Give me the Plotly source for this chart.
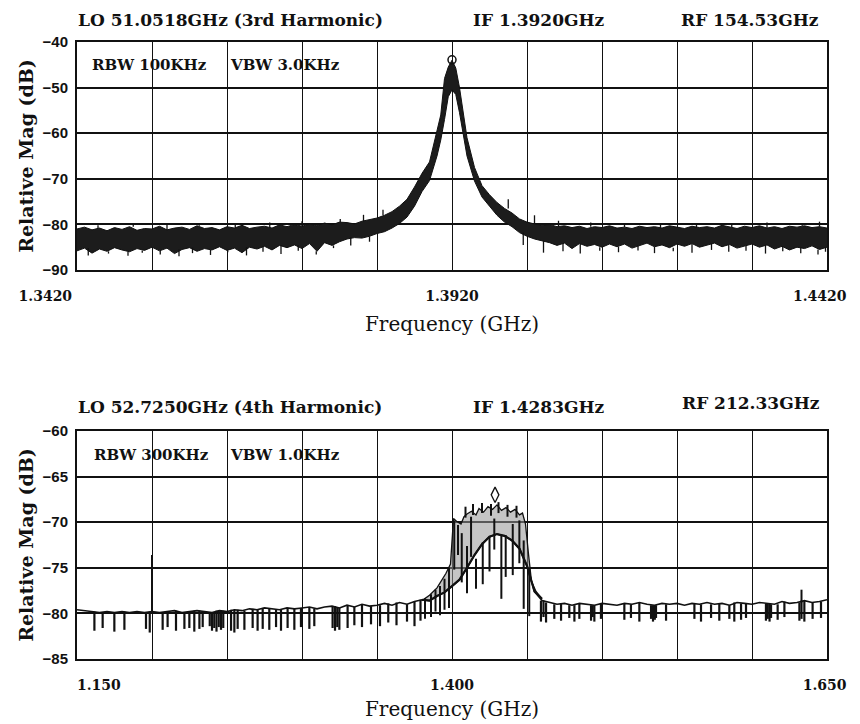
import numpy as np
import plotly.graph_objects as go

# ---------------- Top spectrum: LO 51.0518 GHz (3rd harmonic) ----------------
TOP_F = [1.342, 1.343, 1.344, 1.345, 1.346, 1.347, 1.348, 1.349, 1.350, 1.351,
         1.352, 1.353, 1.354, 1.355, 1.356, 1.357, 1.358, 1.359, 1.360, 1.361,
         1.362, 1.363, 1.364, 1.365, 1.366, 1.367, 1.368, 1.369, 1.370, 1.371,
         1.372, 1.373, 1.374, 1.375, 1.376, 1.377, 1.378, 1.379, 1.380, 1.381,
         1.382, 1.383, 1.384, 1.385, 1.386, 1.387, 1.388, 1.389, 1.390,
         1.3905, 1.391, 1.3915, 1.392, 1.3925, 1.393, 1.3935, 1.394,
         1.395, 1.396, 1.397, 1.398, 1.399, 1.400, 1.401, 1.402, 1.403, 1.404,
         1.405, 1.406, 1.407, 1.408, 1.409, 1.410, 1.411, 1.412, 1.413, 1.414,
         1.415, 1.416, 1.417, 1.418, 1.419, 1.420, 1.421, 1.422, 1.423, 1.424,
         1.425, 1.426, 1.427, 1.428, 1.429, 1.430, 1.431, 1.432, 1.433, 1.434,
         1.435, 1.436, 1.437, 1.438, 1.439, 1.440, 1.441, 1.442]
TOP_HI = [-81.0, -80.6, -81.2, -80.8, -81.4, -80.7, -81.1, -80.5, -81.3, -80.9,
          -81.0, -80.4, -81.2, -80.8, -80.6, -81.1, -80.3, -80.9, -80.7, -81.2,
          -80.5, -80.8, -80.2, -80.9, -80.6, -80.4, -80.8, -80.1, -80.5, -80.0,
          -80.4, -79.9, -80.3, -79.7, -80.1, -79.5, -79.6, -79.9, -79.3, -79.0,
          -78.6, -78.0, -77.2, -76.0, -74.5, -71.8, -68.8, -66.3, -59.5,
          -56.0, -48.0, -45.5, -44.0, -45.7, -50.0, -56.0, -61.0,
          -67.5, -71.5, -73.5, -75.2, -76.5, -77.5, -78.8, -79.5, -79.9, -80.2,
          -80.0, -80.5, -80.3, -80.7, -80.4, -80.9, -80.5, -80.7, -80.3, -80.8,
          -80.6, -80.9, -80.4, -80.7, -80.5, -80.8, -80.3, -80.6, -80.9, -80.4,
          -80.7, -80.5, -80.8, -80.2, -80.6, -80.9, -80.4, -80.7, -80.3, -80.8,
          -80.5, -80.9, -80.4, -80.6, -80.3, -80.7, -80.5, -80.8]
TOP_LO = [-85.8, -85.2, -86.3, -85.4, -85.9, -85.1, -85.6, -86.0, -85.3, -85.7,
          -85.0, -85.8, -85.2, -86.4, -85.5, -85.1, -85.9, -85.3, -85.6, -84.9,
          -85.7, -85.2, -86.2, -85.0, -85.4, -84.8, -85.6, -84.6, -85.1, -84.5,
          -85.3, -84.2, -85.9, -84.0, -84.6, -83.8, -83.2, -82.9, -83.0, -82.6,
          -82.0, -81.6, -80.8, -79.8, -78.4, -76.0, -72.8, -70.4, -65.0,
          -61.5, -57.0, -52.0, -50.5, -51.5, -55.5, -60.5, -65.0,
          -70.5, -74.0, -76.0, -78.0, -79.5, -80.5, -81.8, -82.6, -83.2, -83.6,
          -84.0, -84.6, -84.1, -85.3, -84.2, -84.8, -84.4, -85.0, -84.3, -84.9,
          -84.3, -85.2, -84.6, -84.1, -84.9, -84.5, -85.1, -84.3, -84.8, -84.2,
          -85.0, -84.6, -84.1, -84.9, -84.4, -85.2, -84.7, -84.3, -85.0, -84.5,
          -85.4, -84.8, -85.6, -85.0, -85.3, -84.7, -85.5, -85.0]
# noise excursions below / above the band
TOP_DN_F = [1.3435, 1.3462, 1.3488, 1.3507, 1.3531, 1.3556, 1.3574, 1.3598, 1.3621, 1.3646,
            1.3668, 1.3692, 1.3715, 1.3739, 1.3762, 1.3785, 1.3810,
            1.4015, 1.4042, 1.4068, 1.4091, 1.4117, 1.4142, 1.4168, 1.4190, 1.4215, 1.4240,
            1.4266, 1.4289, 1.4312, 1.4338, 1.4361, 1.4385, 1.4408, 1.4418]
TOP_DN_DB = [-86.8, -86.4, -86.9, -86.2, -86.6, -87.0, -86.3, -86.7, -86.1, -86.8,
             -86.0, -86.5, -85.8, -86.6, -85.2, -84.6, -83.8,
             -84.5, -86.2, -85.9, -86.4, -85.8, -86.1, -85.7, -86.3, -85.9, -86.2,
             -85.6, -86.0, -85.8, -86.4, -85.9, -86.3, -86.6, -86.0]
TOP_UP_F = [1.3448, 1.3495, 1.3540, 1.3583, 1.3631, 1.3677, 1.3720, 1.3771, 1.3802, 1.3828,
            1.3995, 1.4030, 1.4062, 1.4105, 1.4150, 1.4198, 1.4246, 1.4293, 1.4340, 1.4387,
            1.4410, 1.4435]
TOP_UP_DB = [-80.2, -80.0, -80.1, -79.9, -80.0, -79.6, -79.3, -78.8, -77.9, -76.8,
             -74.5, -78.0, -79.2, -79.6, -79.8, -79.9, -79.7, -80.0, -79.6, -79.8,
             -79.4, -79.9]
TOP_MARK_F = [1.3920]
TOP_MARK_DB = [-43.9]

TOP_X_TICKS = [1.342, 1.352, 1.362, 1.372, 1.382, 1.392, 1.402, 1.412, 1.422, 1.432, 1.442]
TOP_X_LABELS = ["1.3420", "", "", "", "", "1.3920", "", "", "", "", "1.4420"]
TOP_Y_TICKS = [-90, -80, -70, -60, -50, -40]

# ---------------- Bottom spectrum: LO 52.7250 GHz (4th harmonic) ----------------
BOT_F = [1.150, 1.155, 1.160, 1.165, 1.170, 1.175, 1.180, 1.185, 1.190, 1.195,
         1.200, 1.205, 1.210, 1.215, 1.220, 1.225, 1.230, 1.235, 1.240, 1.245,
         1.250, 1.255, 1.260, 1.265, 1.270, 1.275, 1.280, 1.285, 1.290, 1.295,
         1.300, 1.305, 1.310, 1.315, 1.320, 1.325, 1.330, 1.335, 1.340, 1.345,
         1.350, 1.355, 1.360, 1.365, 1.370, 1.375, 1.380, 1.385, 1.390, 1.395,
         1.400, 1.405, 1.410, 1.415, 1.420, 1.425, 1.430, 1.435, 1.440, 1.445,
         1.450, 1.455, 1.460, 1.465, 1.470, 1.475, 1.480, 1.485, 1.490, 1.495,
         1.500, 1.505, 1.510, 1.515, 1.520, 1.525, 1.530, 1.535, 1.540, 1.545,
         1.550, 1.555, 1.560, 1.565, 1.570, 1.575, 1.580, 1.585, 1.590, 1.595,
         1.600, 1.605, 1.610, 1.615, 1.620, 1.625, 1.630, 1.635, 1.640, 1.645, 1.650]
BOT_DB = [-79.6, -79.7, -79.8, -79.9, -79.8, -79.9, -79.8, -79.9, -79.8, -79.9,
          -79.8, -79.9, -79.8, -79.7, -79.9, -79.8, -79.7, -79.8, -79.9, -79.7,
          -79.8, -79.6, -79.7, -79.5, -79.6, -79.4, -79.5, -79.6, -79.4, -79.5,
          -79.4, -79.3, -79.5, -79.3, -79.2, -79.4, -79.1, -79.3, -79.0, -79.2,
          -79.1, -78.9, -79.1, -78.8, -79.0, -78.7, -78.5, -78.6, -78.1, -77.7,
          -77.0, -76.3, -75.0, -73.6, -72.4, -71.6, -71.3, -71.5, -72.0, -72.9,
          -74.8, -77.6, -78.6, -78.8, -79.0, -78.9, -79.1, -78.9, -79.0, -79.1,
          -78.9, -79.0, -79.1, -78.9, -79.0, -78.8, -79.0, -79.1, -78.9, -79.0,
          -78.9, -79.1, -78.9, -79.0, -78.8, -79.0, -78.9, -79.1, -78.8, -78.9,
          -79.0, -78.8, -78.9, -79.0, -78.7, -78.9, -78.8, -78.6, -78.8, -78.7, -78.5]

# downward dropouts: frequency and lowest level
DROP_F = [1.1616, 1.1671, 1.1749, 1.1816, 1.1960, 1.1985, 1.2071, 1.2104, 1.2160, 1.2216,
          1.2249, 1.2282, 1.2316, 1.2338, 1.2385, 1.2400, 1.2415, 1.2430, 1.2445, 1.2460,
          1.2475, 1.2527, 1.2549, 1.2571, 1.2616, 1.2671, 1.2704, 1.2738, 1.2782, 1.2827,
          1.2860, 1.2904, 1.2949, 1.2993, 1.3049, 1.3082, 1.3204, 1.3220, 1.3235, 1.3249,
          1.3304, 1.3349, 1.3400, 1.3460, 1.3520, 1.3575, 1.3630, 1.3700, 1.3750, 1.3790,
          1.4593, 1.4610, 1.4627, 1.4682, 1.4727, 1.4782, 1.4816, 1.4849, 1.4927, 1.4938,
          1.4949, 1.4993, 1.5149, 1.5193, 1.5249, 1.5327, 1.5340, 1.5352, 1.5360, 1.5427,
          1.5616, 1.5660, 1.5727, 1.5782, 1.5849, 1.5882, 1.5927, 1.5960, 1.6093, 1.6105,
          1.6117, 1.6127, 1.6171, 1.6216, 1.6316, 1.6330, 1.6349, 1.6404, 1.6460]
DROP_DB = [-81.9, -81.6, -82.0, -81.8, -81.7, -82.1, -81.8, -81.5, -81.9, -81.7,
           -81.6, -82.0, -81.7, -81.5, -81.4, -81.9, -81.6, -82.0, -81.5, -81.8,
           -81.6, -81.9, -82.1, -81.7, -81.8, -81.6, -81.9, -81.7, -81.8, -81.5,
           -81.9, -81.6, -81.8, -81.5, -81.7, -81.4, -81.6, -81.9, -81.5, -81.8,
           -81.6, -81.3, -81.5, -81.2, -81.4, -81.0, -81.3, -80.9, -81.4, -80.8,
           -80.9, -80.4, -81.0, -80.6, -80.8, -80.5, -80.9, -80.6, -80.8, -80.4,
           -80.9, -80.6, -80.7, -80.5, -80.9, -80.6, -80.9, -80.7, -80.5, -80.8,
           -80.6, -80.9, -80.5, -80.8, -80.6, -80.9, -80.7, -80.5, -80.8, -80.6,
           -80.9, -80.5, -80.7, -80.4, -80.8, -80.6, -80.9, -80.6, -80.5]

# upward spurs: frequency, base and top level
SPUR_F = [1.2000, 1.6330]
SPUR_BASE = [-79.8, -78.8]
SPUR_TOP = [-73.6, -77.4]

# signal band: outer (max-hold) envelope
BAND_F = [1.380, 1.385, 1.390, 1.393, 1.396, 1.399, 1.400, 1.401, 1.403, 1.406,
          1.408, 1.410, 1.413, 1.416, 1.418, 1.421, 1.424, 1.427, 1.430, 1.433,
          1.436, 1.439, 1.442, 1.445, 1.447, 1.449, 1.451, 1.453, 1.456, 1.460]
BAND_HI = [-78.6, -78.0, -77.2, -76.4, -75.6, -74.6, -71.5, -69.6, -69.9, -70.2,
           -69.4, -69.1, -68.8, -69.2, -68.5, -68.9, -68.3, -68.6, -68.1, -68.7,
           -68.4, -68.9, -68.6, -69.2, -69.0, -70.2, -73.5, -76.5, -77.6, -78.4]
# inner (smooth) response inside the band
INNER_F = [1.380, 1.385, 1.390, 1.395, 1.400, 1.405, 1.410, 1.415, 1.420, 1.425,
           1.430, 1.435, 1.440, 1.445, 1.450, 1.455, 1.460]
INNER_DB = [-78.5, -78.6, -78.1, -77.7, -77.0, -76.3, -75.0, -73.6, -72.4, -71.6,
            -71.3, -71.5, -72.0, -72.9, -74.8, -77.6, -78.4]
# vertical excursions inside the band: frequency, top, bottom
BSPK_F = [1.3820, 1.3860, 1.3890, 1.3920, 1.3950, 1.3980, 1.4015, 1.4040, 1.4065, 1.4100,
          1.4127, 1.4160, 1.4205, 1.4250, 1.4282, 1.4329, 1.4358, 1.4405, 1.4449, 1.4478,
          1.4515, 1.4090, 1.4140, 1.4200, 1.4260, 1.4310, 1.4370, 1.4430]
BSPK_TOP = [-78.3, -77.9, -77.4, -77.0, -76.2, -75.0, -69.8, -70.3, -71.2, -72.6,
            -69.4, -74.0, -72.2, -71.6, -69.6, -71.5, -71.4, -70.2, -69.8, -72.0,
            -75.0, -68.3, -68.0, -67.9, -68.0, -67.8, -68.1, -68.2]
BSPK_BOT = [-80.6, -80.4, -79.8, -80.2, -79.6, -79.4, -75.2, -73.6, -76.6, -77.8,
            -73.8, -77.3, -76.8, -75.4, -73.0, -78.4, -76.0, -75.8, -74.5, -79.5,
            -80.3, -69.5, -69.2, -69.0, -69.3, -69.0, -69.4, -69.5]
BOT_MARK_F = [1.4287]
BOT_MARK_DB = [-67.0]

BOT_X_TICKS = [1.15, 1.20, 1.25, 1.30, 1.35, 1.40, 1.45, 1.50, 1.55, 1.60, 1.65]
BOT_X_LABELS = ["1.150", "", "", "", "", "1.400", "", "", "", "", "1.650"]
BOT_Y_TICKS = [-85, -80, -75, -70, -65, -60]

# ---------------------------------------------------------------------------
OFF = 8                      # page body margin of the html page
W, H = 860 - OFF, 724 - OFF  # figure size
INK = "#111111"
SERIF = "DejaVu Serif"


def px(xp):
    return (xp - OFF) / W


def py(yp):
    return 1 - (yp - OFF) / H


def segs(xs, tops, bots):
    X, Y = [], []
    for x, t, b in zip(xs, tops, bots):
        X += [x, x, None]
        Y += [t, b, None]
    return X, Y


def nearest(fs, vals, f):
    arr = np.array(fs)
    return vals[int(np.argmin(np.abs(arr - f)))]


fig = go.Figure()

# top: noise band as filled envelope
fig.add_trace(go.Scatter(x=TOP_F, y=TOP_LO, mode="lines", line=dict(color=INK, width=1),
                         xaxis="x", yaxis="y", showlegend=False, hoverinfo="skip"))
fig.add_trace(go.Scatter(x=TOP_F, y=TOP_HI, mode="lines", line=dict(color=INK, width=1),
                         fill="tonexty", fillcolor="#1c1c1c",
                         xaxis="x", yaxis="y", showlegend=False))
ux, uy = segs(TOP_DN_F, [nearest(TOP_F, TOP_LO, f) for f in TOP_DN_F], TOP_DN_DB)
fig.add_trace(go.Scatter(x=ux, y=uy, mode="lines", line=dict(color=INK, width=1.3),
                         xaxis="x", yaxis="y", showlegend=False, hoverinfo="skip"))
ux, uy = segs(TOP_UP_F, [nearest(TOP_F, TOP_HI, f) for f in TOP_UP_F], TOP_UP_DB)
fig.add_trace(go.Scatter(x=ux, y=uy, mode="lines", line=dict(color=INK, width=1.3),
                         xaxis="x", yaxis="y", showlegend=False, hoverinfo="skip"))
fig.add_trace(go.Scatter(x=TOP_MARK_F, y=TOP_MARK_DB, mode="markers",
                         marker=dict(symbol="circle-open", size=8, color=INK, line=dict(width=1.5)),
                         xaxis="x", yaxis="y", showlegend=False))

# bottom: band fill between outer envelope and inner response
poly_x = list(BAND_F) + list(INNER_F[::-1])
poly_y = list(BAND_HI) + list(INNER_DB[::-1])
fig.add_trace(go.Scatter(x=poly_x, y=poly_y, mode="lines", fill="toself",
                         fillcolor="rgba(150,150,150,0.55)", line=dict(color="rgba(0,0,0,0)", width=0),
                         xaxis="x2", yaxis="y2", showlegend=False, hoverinfo="skip"))
fig.add_trace(go.Scatter(x=BAND_F, y=BAND_HI, mode="lines", line=dict(color=INK, width=1.3),
                         xaxis="x2", yaxis="y2", showlegend=False))
fig.add_trace(go.Scatter(x=INNER_F, y=INNER_DB, mode="lines", line=dict(color=INK, width=2.2),
                         xaxis="x2", yaxis="y2", showlegend=False))

tops = [nearest(BOT_F, BOT_DB, f) for f in DROP_F]
dx, dy = segs(DROP_F, tops, DROP_DB)
fig.add_trace(go.Scatter(x=dx, y=dy, mode="lines", line=dict(color=INK, width=2.2),
                         xaxis="x2", yaxis="y2", showlegend=False, hoverinfo="skip"))
bx, by = segs(BSPK_F, BSPK_TOP, BSPK_BOT)
fig.add_trace(go.Scatter(x=bx, y=by, mode="lines", line=dict(color=INK, width=2),
                         xaxis="x2", yaxis="y2", showlegend=False, hoverinfo="skip"))
sx, sy = segs(SPUR_F, SPUR_TOP, SPUR_BASE)
fig.add_trace(go.Scatter(x=sx, y=sy, mode="lines", line=dict(color=INK, width=2),
                         xaxis="x2", yaxis="y2", showlegend=False, hoverinfo="skip"))
fig.add_trace(go.Scatter(x=BOT_F, y=BOT_DB, mode="lines", line=dict(color=INK, width=1.6),
                         xaxis="x2", yaxis="y2", showlegend=False))
fig.add_trace(go.Scatter(x=BOT_MARK_F, y=BOT_MARK_DB, mode="markers",
                         marker=dict(symbol="diamond-tall-open", size=11, color=INK, line=dict(width=1.3)),
                         xaxis="x2", yaxis="y2", showlegend=False))

XDOM = [px(77), px(827)]
TOP_YDOM = [py(270), py(42)]
BOT_YDOM = [py(659), py(431)]

xtick_font = dict(family=SERIF, size=14, color=INK, weight="bold")
ytick_font = dict(family="Liberation Sans", size=15, color=INK, weight="bold")
xtitle_font = dict(family=SERIF, size=20, color=INK)
ytitle_font = dict(family=SERIF, size=19, color=INK, weight="bold")

common_x = dict(showgrid=True, gridcolor=INK, gridwidth=1.4, showline=True, linecolor=INK,
                linewidth=2, mirror=True, ticks="", zeroline=False, tickfont=xtick_font,
                ticklabelstandoff=12, tickangle=0, automargin=False, ticklabeloverflow="allow")
common_y = dict(showgrid=True, gridcolor=INK, gridwidth=1.8, showline=True, linecolor=INK,
                linewidth=2, mirror=True, ticks="", zeroline=False, tickfont=ytick_font,
                ticklabelstandoff=4, automargin=False, ticklabeloverflow="allow")

pad = "\u00a0"
top_labels = [TOP_X_LABELS[0] + pad * 13] + TOP_X_LABELS[1:-1] + [TOP_X_LABELS[-1] + pad * 3]
bot_labels = [pad * 9 + BOT_X_LABELS[0]] + BOT_X_LABELS[1:-1] + [BOT_X_LABELS[-1] + pad]

fig.update_layout(
    width=W, height=H, margin=dict(l=0, r=0, t=0, b=0, autoexpand=False),
    paper_bgcolor="white", plot_bgcolor="white", showlegend=False,
    xaxis=dict(domain=XDOM, range=[1.342, 1.442], anchor="y", tickvals=TOP_X_TICKS,
               ticktext=top_labels, title=dict(text="Frequency (GHz)", font=xtitle_font, standoff=14),
               **common_x),
    yaxis=dict(domain=TOP_YDOM, range=[-90, -40], anchor="x", tickvals=TOP_Y_TICKS,
               title=dict(text="Relative Mag (dB)", font=ytitle_font, standoff=4), **common_y),
    xaxis2=dict(domain=XDOM, range=[1.15, 1.65], anchor="y2", tickvals=BOT_X_TICKS,
                ticktext=bot_labels, title=dict(text="Frequency (GHz)", font=xtitle_font, standoff=10),
                **common_x),
    yaxis2=dict(domain=BOT_YDOM, range=[-85, -60], anchor="x2", tickvals=BOT_Y_TICKS,
                title=dict(text="Relative Mag (dB)", font=ytitle_font, standoff=4), **common_y),
)

head_font = dict(family=SERIF, size=17, color=INK, weight="bold")
box_font = dict(family=SERIF, size=15, color=INK, weight="bold")


def ann(text, xpx, ypx, font, xanchor="left"):
    fig.add_annotation(text=text, x=px(xpx), y=py(ypx), xref="paper", yref="paper",
                       xanchor=xanchor, yanchor="middle", showarrow=False, font=font)


ann("LO 51.0518GHz (3rd Harmonic)", 76, 20, head_font)
ann("IF 1.3920GHz", 539, 20, head_font, "center")
ann("RF 154.53GHz", 750, 20, head_font, "center")
ann("RBW 100KHz", 90, 65, box_font)
ann("VBW 3.0KHz", 228, 65, box_font)

ann("LO 52.7250GHz (4th Harmonic)", 76, 407, head_font)
ann("IF 1.4283GHz", 539, 407, head_font, "center")
ann("RF 212.33GHz", 751, 403, head_font, "center")
ann("RBW 300KHz", 92, 455, box_font)
ann("VBW 1.0KHz", 228, 455, box_font)

fig.write_html("out.html")
